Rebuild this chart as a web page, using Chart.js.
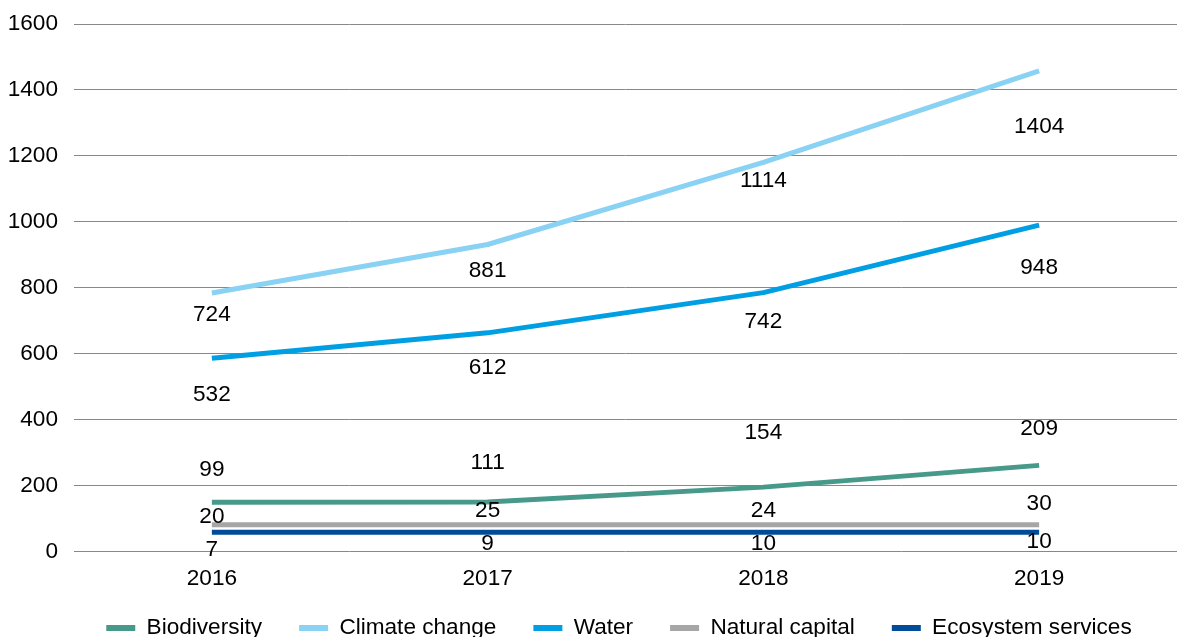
<!DOCTYPE html>
<html>
<head>
<meta charset="utf-8">
<script src="https://cdn.jsdelivr.net/npm/chart.js@4"></script>
<style>
  html, body { margin: 0; padding: 0; background: #fff; overflow: hidden; }
  #wrap { width: 1182px; height: 666px; }
</style>
</head>
<body>
<div id="wrap"><canvas id="c" width="1182" height="666"></canvas></div>
<script>
// Categories
const years = ['2016', '2017', '2018', '2019'];
// Series names
const seriesNames = ['Biodiversity', 'Climate change', 'Water', 'Natural capital', 'Ecosystem services'];
// Plotted line values (as drawn in the picture)
const biodiversity = [149, 150, 195, 261];
const climateChange = [784, 931, 1180, 1458];
const water = [586, 663, 785, 990];
const naturalCapital = [81, 81, 81, 81];
const ecosystemServices = [58, 58, 58, 58];
// Data label texts shown in the picture
const biodiversityLabels = [99, 111, 154, 209];
const climateChangeLabels = [724, 881, 1114, 1404];
const waterLabels = [532, 612, 742, 948];
const naturalCapitalLabels = [20, 25, 24, 30];
const ecosystemServicesLabels = [7, 9, 10, 10];
// Y tick settings
const yMin = 0, yMax = 1600, yStep = 200;

const seriesValues = [biodiversity, climateChange, water, naturalCapital, ecosystemServices];
const seriesLabels = [biodiversityLabels, climateChangeLabels, waterLabels, naturalCapitalLabels, ecosystemServicesLabels];
const colors = ['#479a8a', '#89d2f4', '#009fe3', '#a6a6a6', '#004c99'];
// label nudges in px relative to each plotted point (styling)
const labelNudge = [
  [-33, -39, -54, -37],
  [22, 26, 18, 56],
  [37, 35, 29, 43],
  [-8, -14, -14, -21],
  [17, 11, 11, 9]
];

const FONT = "'Liberation Sans', Arial, sans-serif";
const FS = 22.6;
const LEGEND_PAD = 37;

const dataLabelPlugin = {
  id: 'dataLabels',
  afterDatasetsDraw(chart) {
    const ctx = chart.ctx;
    ctx.save();
    ctx.font = FS + 'px ' + FONT;
    ctx.fillStyle = '#000';
    ctx.textAlign = 'center';
    ctx.textBaseline = 'middle';
    chart.data.datasets.forEach((ds, di) => {
      const meta = chart.getDatasetMeta(di);
      meta.data.forEach((pt, i) => {
        ctx.fillText(String(seriesLabels[di][i]), pt.x, pt.y + labelNudge[di][i]);
      });
    });
    ctx.restore();
  }
};

// places the legend row like the reference (centre x 619, text centre y 628)
const legendPlace = {
  id: 'legendPlace',
  afterLayout(chart) {
    const lg = chart.legend;
    if (!lg) return;
    const h = lg.bottom - lg.top;
    lg.left = 61;
    lg.top = 628 - LEGEND_PAD - FS / 2;
    lg.bottom = lg.top + h;
  }
};

new Chart(document.getElementById('c'), {
  type: 'line',
  data: {
    labels: years,
    datasets: seriesNames.map((n, i) => ({
      label: n,
      data: seriesValues[i],
      borderColor: colors[i],
      backgroundColor: colors[i],
      borderWidth: 5,
      pointRadius: 0,
      pointHoverRadius: 0,
      tension: 0,
      borderCapStyle: 'butt',
      borderJoinStyle: 'round',
      fill: false
    }))
  },
  options: {
    responsive: false,
    animation: false,
    events: [],
    layout: { padding: { top: 24, left: 0, right: 5, bottom: 0 } },
    plugins: {
      tooltip: { enabled: false },
      legend: {
        position: 'bottom',
        align: 'center',
        labels: {
          font: { size: FS, family: FONT },
          color: '#000',
          boxWidth: 29,
          boxHeight: 6,
          padding: LEGEND_PAD,
          generateLabels(chart) {
            return chart.data.datasets.map((ds, i) => ({
              text: ds.label,
              fillStyle: ds.borderColor,
              strokeStyle: ds.borderColor,
              lineWidth: 0,
              hidden: false,
              datasetIndex: i,
              fontColor: '#000'
            }));
          }
        }
      }
    },
    scales: {
      x: {
        type: 'category',
        offset: true,
        grid: { display: false, drawTicks: false },
        border: { display: false },
        ticks: { font: { size: FS, family: FONT }, color: '#000', padding: 14, maxRotation: 0 },
        afterFit(scale) { scale.height = 45; }
      },
      y: {
        min: yMin,
        max: yMax,
        grid: { color: '#888888', lineWidth: 1, drawTicks: false },
        border: { display: false },
        ticks: {
          stepSize: yStep,
          font: { size: FS, family: FONT },
          color: '#000',
          padding: 16,
          callback: (v) => String(v)
        },
        afterFit(scale) { scale.width = 74; scale.paddingTop = 0; scale.paddingBottom = 0; }
      }
    }
  },
  plugins: [dataLabelPlugin, legendPlace]
});
</script>
</body>
</html>
